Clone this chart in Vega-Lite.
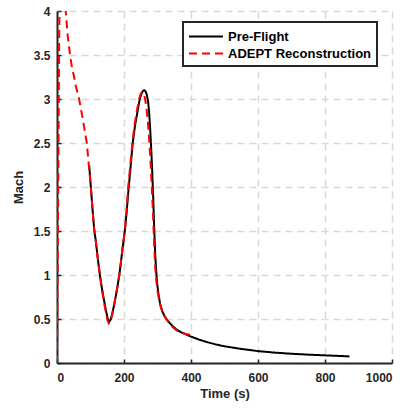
{
  "$schema": "https://vega.github.io/schema/vega-lite/v6.json",
  "width": 335,
  "height": 352,
  "autosize": {"type": "none"},
  "padding": {"left": 57, "top": 11, "right": 17, "bottom": 45},
  "background": "white",
  "config": {
    "view": {"stroke": null},
    "font": "Liberation Sans",
    "axis": {
      "domainColor": "#262626",
      "domainWidth": 2,
      "tickColor": "#262626",
      "tickWidth": 1.5,
      "tickSize": -4,
      "labelFont": "Liberation Sans",
      "labelFontWeight": "bold",
      "labelFontSize": 12,
      "labelColor": "#262626",
      "titleFont": "Liberation Sans",
      "titleFontWeight": "bold",
      "titleFontSize": 13,
      "titleColor": "#262626",
      "gridColor": "#d9d9d9",
      "gridDash": [7, 5],
      "gridWidth": 1.5
    },
    "legend": {
      "strokeWidth": 2
    }
  },
  "data": {
    "values": [
      {"series": "Pre-Flight", "t": 96, "mach": 2.25},
      {"series": "Pre-Flight", "t": 101, "mach": 2.0},
      {"series": "Pre-Flight", "t": 106, "mach": 1.75},
      {"series": "Pre-Flight", "t": 111, "mach": 1.52},
      {"series": "Pre-Flight", "t": 116, "mach": 1.38},
      {"series": "Pre-Flight", "t": 122, "mach": 1.18},
      {"series": "Pre-Flight", "t": 128, "mach": 1.0},
      {"series": "Pre-Flight", "t": 134, "mach": 0.85},
      {"series": "Pre-Flight", "t": 140, "mach": 0.72},
      {"series": "Pre-Flight", "t": 146, "mach": 0.6},
      {"series": "Pre-Flight", "t": 151, "mach": 0.51},
      {"series": "Pre-Flight", "t": 156, "mach": 0.47},
      {"series": "Pre-Flight", "t": 160, "mach": 0.49},
      {"series": "Pre-Flight", "t": 165, "mach": 0.56},
      {"series": "Pre-Flight", "t": 170, "mach": 0.65},
      {"series": "Pre-Flight", "t": 176, "mach": 0.77},
      {"series": "Pre-Flight", "t": 181, "mach": 0.88},
      {"series": "Pre-Flight", "t": 186, "mach": 1.0},
      {"series": "Pre-Flight", "t": 191, "mach": 1.15},
      {"series": "Pre-Flight", "t": 195, "mach": 1.28},
      {"series": "Pre-Flight", "t": 199, "mach": 1.4},
      {"series": "Pre-Flight", "t": 203, "mach": 1.52},
      {"series": "Pre-Flight", "t": 208, "mach": 1.72},
      {"series": "Pre-Flight", "t": 213, "mach": 1.95},
      {"series": "Pre-Flight", "t": 219, "mach": 2.2},
      {"series": "Pre-Flight", "t": 226, "mach": 2.5},
      {"series": "Pre-Flight", "t": 233, "mach": 2.7},
      {"series": "Pre-Flight", "t": 240, "mach": 2.85},
      {"series": "Pre-Flight", "t": 246, "mach": 2.98},
      {"series": "Pre-Flight", "t": 251, "mach": 3.05},
      {"series": "Pre-Flight", "t": 256, "mach": 3.09},
      {"series": "Pre-Flight", "t": 260, "mach": 3.1},
      {"series": "Pre-Flight", "t": 264, "mach": 3.09},
      {"series": "Pre-Flight", "t": 268, "mach": 3.05},
      {"series": "Pre-Flight", "t": 272, "mach": 2.97},
      {"series": "Pre-Flight", "t": 275, "mach": 2.85},
      {"series": "Pre-Flight", "t": 278, "mach": 2.67},
      {"series": "Pre-Flight", "t": 281, "mach": 2.45},
      {"series": "Pre-Flight", "t": 284, "mach": 2.2},
      {"series": "Pre-Flight", "t": 287, "mach": 1.9},
      {"series": "Pre-Flight", "t": 290, "mach": 1.55},
      {"series": "Pre-Flight", "t": 293, "mach": 1.25},
      {"series": "Pre-Flight", "t": 296, "mach": 1.05},
      {"series": "Pre-Flight", "t": 299, "mach": 0.9},
      {"series": "Pre-Flight", "t": 303, "mach": 0.78},
      {"series": "Pre-Flight", "t": 308, "mach": 0.67},
      {"series": "Pre-Flight", "t": 314, "mach": 0.59},
      {"series": "Pre-Flight", "t": 320, "mach": 0.54},
      {"series": "Pre-Flight", "t": 327, "mach": 0.5},
      {"series": "Pre-Flight", "t": 335, "mach": 0.46},
      {"series": "Pre-Flight", "t": 345, "mach": 0.42},
      {"series": "Pre-Flight", "t": 357, "mach": 0.38},
      {"series": "Pre-Flight", "t": 370, "mach": 0.35},
      {"series": "Pre-Flight", "t": 385, "mach": 0.325},
      {"series": "Pre-Flight", "t": 400, "mach": 0.3},
      {"series": "Pre-Flight", "t": 425, "mach": 0.265},
      {"series": "Pre-Flight", "t": 450, "mach": 0.235},
      {"series": "Pre-Flight", "t": 475, "mach": 0.21},
      {"series": "Pre-Flight", "t": 500, "mach": 0.19},
      {"series": "Pre-Flight", "t": 550, "mach": 0.16},
      {"series": "Pre-Flight", "t": 600, "mach": 0.135},
      {"series": "Pre-Flight", "t": 650, "mach": 0.118},
      {"series": "Pre-Flight", "t": 700, "mach": 0.105},
      {"series": "Pre-Flight", "t": 750, "mach": 0.095},
      {"series": "Pre-Flight", "t": 800, "mach": 0.087},
      {"series": "Pre-Flight", "t": 850, "mach": 0.079},
      {"series": "Pre-Flight", "t": 873, "mach": 0.075},
      {"series": "ADEPT Reconstruction", "t": 0, "mach": 0},
      {"series": "ADEPT Reconstruction", "t": 2, "mach": 1.0},
      {"series": "ADEPT Reconstruction", "t": 4, "mach": 2.2},
      {"series": "ADEPT Reconstruction", "t": 6, "mach": 3.4},
      {"series": "ADEPT Reconstruction", "t": 8, "mach": 4.3},
      {"series": "ADEPT Reconstruction", "t": 12, "mach": 4.9},
      {"series": "ADEPT Reconstruction", "t": 18, "mach": 4.6},
      {"series": "ADEPT Reconstruction", "t": 26, "mach": 4.0},
      {"series": "ADEPT Reconstruction", "t": 32, "mach": 3.72},
      {"series": "ADEPT Reconstruction", "t": 39, "mach": 3.5},
      {"series": "ADEPT Reconstruction", "t": 45, "mach": 3.35},
      {"series": "ADEPT Reconstruction", "t": 50, "mach": 3.27},
      {"series": "ADEPT Reconstruction", "t": 56, "mach": 3.15},
      {"series": "ADEPT Reconstruction", "t": 66, "mach": 3.0},
      {"series": "ADEPT Reconstruction", "t": 78, "mach": 2.75},
      {"series": "ADEPT Reconstruction", "t": 89, "mach": 2.5},
      {"series": "ADEPT Reconstruction", "t": 95, "mach": 2.25},
      {"series": "ADEPT Reconstruction", "t": 101, "mach": 2.0},
      {"series": "ADEPT Reconstruction", "t": 106, "mach": 1.75},
      {"series": "ADEPT Reconstruction", "t": 111, "mach": 1.51},
      {"series": "ADEPT Reconstruction", "t": 116, "mach": 1.38},
      {"series": "ADEPT Reconstruction", "t": 122, "mach": 1.18},
      {"series": "ADEPT Reconstruction", "t": 128, "mach": 1.0},
      {"series": "ADEPT Reconstruction", "t": 134, "mach": 0.84},
      {"series": "ADEPT Reconstruction", "t": 140, "mach": 0.7},
      {"series": "ADEPT Reconstruction", "t": 146, "mach": 0.57},
      {"series": "ADEPT Reconstruction", "t": 151, "mach": 0.48},
      {"series": "ADEPT Reconstruction", "t": 155, "mach": 0.45},
      {"series": "ADEPT Reconstruction", "t": 159, "mach": 0.47},
      {"series": "ADEPT Reconstruction", "t": 164, "mach": 0.54},
      {"series": "ADEPT Reconstruction", "t": 170, "mach": 0.65},
      {"series": "ADEPT Reconstruction", "t": 176, "mach": 0.77},
      {"series": "ADEPT Reconstruction", "t": 181, "mach": 0.88},
      {"series": "ADEPT Reconstruction", "t": 186, "mach": 1.0},
      {"series": "ADEPT Reconstruction", "t": 191, "mach": 1.15},
      {"series": "ADEPT Reconstruction", "t": 195, "mach": 1.28},
      {"series": "ADEPT Reconstruction", "t": 199, "mach": 1.4},
      {"series": "ADEPT Reconstruction", "t": 203, "mach": 1.52},
      {"series": "ADEPT Reconstruction", "t": 208, "mach": 1.75},
      {"series": "ADEPT Reconstruction", "t": 212, "mach": 1.98},
      {"series": "ADEPT Reconstruction", "t": 218, "mach": 2.22},
      {"series": "ADEPT Reconstruction", "t": 225, "mach": 2.5},
      {"series": "ADEPT Reconstruction", "t": 232, "mach": 2.72},
      {"series": "ADEPT Reconstruction", "t": 239, "mach": 2.88},
      {"series": "ADEPT Reconstruction", "t": 245, "mach": 3.0},
      {"series": "ADEPT Reconstruction", "t": 250, "mach": 3.06},
      {"series": "ADEPT Reconstruction", "t": 255, "mach": 3.08},
      {"series": "ADEPT Reconstruction", "t": 259, "mach": 3.06},
      {"series": "ADEPT Reconstruction", "t": 263, "mach": 3.0},
      {"series": "ADEPT Reconstruction", "t": 267, "mach": 2.9},
      {"series": "ADEPT Reconstruction", "t": 271, "mach": 2.75},
      {"series": "ADEPT Reconstruction", "t": 275, "mach": 2.55},
      {"series": "ADEPT Reconstruction", "t": 279, "mach": 2.3},
      {"series": "ADEPT Reconstruction", "t": 283, "mach": 2.0},
      {"series": "ADEPT Reconstruction", "t": 287, "mach": 1.65},
      {"series": "ADEPT Reconstruction", "t": 290, "mach": 1.35},
      {"series": "ADEPT Reconstruction", "t": 293, "mach": 1.1},
      {"series": "ADEPT Reconstruction", "t": 296, "mach": 0.95},
      {"series": "ADEPT Reconstruction", "t": 300, "mach": 0.82},
      {"series": "ADEPT Reconstruction", "t": 305, "mach": 0.71},
      {"series": "ADEPT Reconstruction", "t": 311, "mach": 0.62},
      {"series": "ADEPT Reconstruction", "t": 318, "mach": 0.55},
      {"series": "ADEPT Reconstruction", "t": 326, "mach": 0.5},
      {"series": "ADEPT Reconstruction", "t": 335, "mach": 0.45},
      {"series": "ADEPT Reconstruction", "t": 345, "mach": 0.41},
      {"series": "ADEPT Reconstruction", "t": 357, "mach": 0.37},
      {"series": "ADEPT Reconstruction", "t": 370, "mach": 0.345},
      {"series": "ADEPT Reconstruction", "t": 384, "mach": 0.33},
      {"series": "ADEPT Reconstruction", "t": 397, "mach": 0.32}
    ]
  },
  "encoding": {
    "x": {
      "field": "t",
      "type": "quantitative",
      "scale": {"domain": [0, 1000], "nice": false},
      "axis": {
        "title": "Time (s)",
        "values": [0, 200, 400, 600, 800, 1000],
        "format": "d",
        "labelPadding": 13,
        "titlePadding": 4
      }
    },
    "y": {
      "field": "mach",
      "type": "quantitative",
      "scale": {"domain": [0, 4], "nice": false, "zero": false},
      "axis": {
        "title": "Mach",
        "values": [0, 0.5, 1, 1.5, 2, 2.5, 3, 3.5, 4],
        "format": "~g",
        "labelPadding": 11,
        "titlePadding": 8
      }
    },
    "color": {
      "field": "series",
      "type": "nominal",
      "scale": {"domain": ["Pre-Flight", "ADEPT Reconstruction"], "range": ["#000000", "#ff0000"]},
      "legend": {
        "title": null,
        "orient": "none",
        "legendX": 126,
        "legendY": 11,
        "strokeColor": "#262626",
        "fillColor": "white",
        "padding": 5,
        "symbolType": "M-1,0H3",
        "symbolSize": 289,
        "symbolStrokeWidth": 2,
        "labelFont": "Liberation Sans",
        "labelFontWeight": "bold",
        "labelFontSize": 13,
        "labelColor": "#000000",
        "labelOffset": 21,
        "rowPadding": 0
      }
    },
    "strokeDash": {
      "field": "series",
      "type": "nominal",
      "scale": {"domain": ["Pre-Flight", "ADEPT Reconstruction"], "range": [[1, 0], [8, 5]]},
      "legend": {
        "title": null,
        "orient": "none",
        "legendX": 126,
        "legendY": 11,
        "strokeColor": "#262626",
        "fillColor": "white",
        "padding": 5,
        "symbolType": "M-1,0H3",
        "symbolSize": 289,
        "symbolStrokeWidth": 2,
        "labelFont": "Liberation Sans",
        "labelFontWeight": "bold",
        "labelFontSize": 13,
        "labelColor": "#000000",
        "labelOffset": 21,
        "rowPadding": 0
      }
    }
  },
  "layer": [
    {
      "transform": [{"filter": "datum.series === 'Pre-Flight'"}],
      "mark": {"type": "line", "clip": true, "strokeWidth": 2}
    },
    {
      "transform": [{"filter": "datum.series === 'ADEPT Reconstruction'"}],
      "mark": {"type": "line", "clip": true, "strokeWidth": 2}
    }
  ]
}
